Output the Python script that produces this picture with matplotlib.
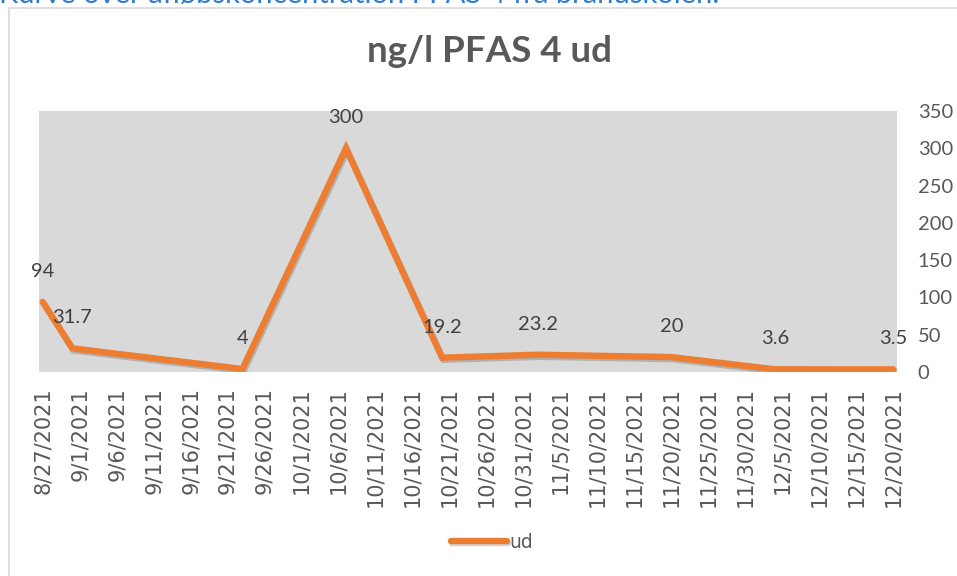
import datetime as dt
import matplotlib.pyplot as plt
import matplotlib.dates as mdates
import matplotlib.patheffects as pe
from matplotlib.patches import Rectangle

# data
dates = ["2021-08-27", "2021-08-31", "2021-09-23", "2021-10-07", "2021-10-20",
         "2021-11-02", "2021-11-20", "2021-12-04", "2021-12-20"]
values = [94, 31.7, 4, 300, 19.2, 23.2, 20, 3.6, 3.5]
labels = ["94", "31.7", "4", "300", "19.2", "23.2", "20", "3.6", "3.5"]
series_name = "ud"
title = "ng/l PFAS 4 ud"
caption = "Kurve over afløbskoncentration PFAS 4 fra brandskolen."
yticks = [0, 50, 100, 150, 200, 250, 300, 350]

x = [dt.datetime.strptime(d, "%Y-%m-%d") for d in dates]
start, end = x[0], x[-1]
tick_dates = []
d = start
while d <= end:
    tick_dates.append(d)
    d += dt.timedelta(days=5)

plain = ["Lato", "DejaVu Sans"]
orange = "#ED7D31"

fig = plt.figure(figsize=(9.57, 5.76), dpi=100)
W, H = 957, 576

# chart frame
fig.patches.append(Rectangle((9 / W, -0.1), 1.2, 1 - 8 / H + 0.1, transform=fig.transFigure,
                             facecolor="white", edgecolor="#D9D9D9", lw=1.2, zorder=-5))
fig.text(-0.001, 1 - 3.5 / H, caption, color="#2F7BCC", fontsize=21,
         family=plain, va="baseline", ha="left")

ax = fig.add_axes([39 / W, 1 - 372 / H, (897 - 39) / W, (372 - 111) / H])
ax.set_facecolor("#D9D9D9")
for s in ax.spines.values():
    s.set_visible(False)

ax.plot(x, values, color=orange, lw=4.6, solid_capstyle="round", solid_joinstyle="miter",
        label=series_name,
        path_effects=[pe.SimpleLineShadow(offset=(1.0, -1.5), shadow_color="k", alpha=0.18),
                      pe.Normal()])

for xi, yi, lab in zip(x, values, labels):
    ax.annotate(lab, (xi, yi), xytext=(0, 22), textcoords="offset points",
                ha="center", va="center", fontsize=14.5, color="#404040", family=plain)

ax.set_xlim(mdates.date2num(start) - 0.5, mdates.date2num(end) + 0.5)
ax.set_ylim(0, 350)
ax.set_xticks(tick_dates)
ax.set_xticklabels([f"{t.month}/{t.day}/{t.year}" for t in tick_dates], rotation=90,
                   fontsize=15, family="DejaVu Sans", color="#595959")
ax.yaxis.tick_right()
ax.set_yticks(yticks)
ax.set_yticklabels([str(v) for v in yticks], fontsize=14.5, family=plain, color="#595959")
ax.tick_params(axis="both", length=0)
ax.tick_params(axis="x", pad=11)
ax.tick_params(axis="y", pad=15)

fig.text(490 / W, 1 - 52 / H, title, ha="center", va="center", fontsize=26.5,
         fontweight="bold", color="#595959", family=plain)

leg = ax.legend(loc="center", bbox_to_anchor=(492 / W, 1 - 542 / H),
                bbox_transform=fig.transFigure, frameon=False,
                prop={"family": "DejaVu Sans", "size": 13.5}, handlelength=3.0,
                handletextpad=0.15)
for t in leg.get_texts():
    t.set_color("#595959")

fig.savefig("out.png", dpi=100)
